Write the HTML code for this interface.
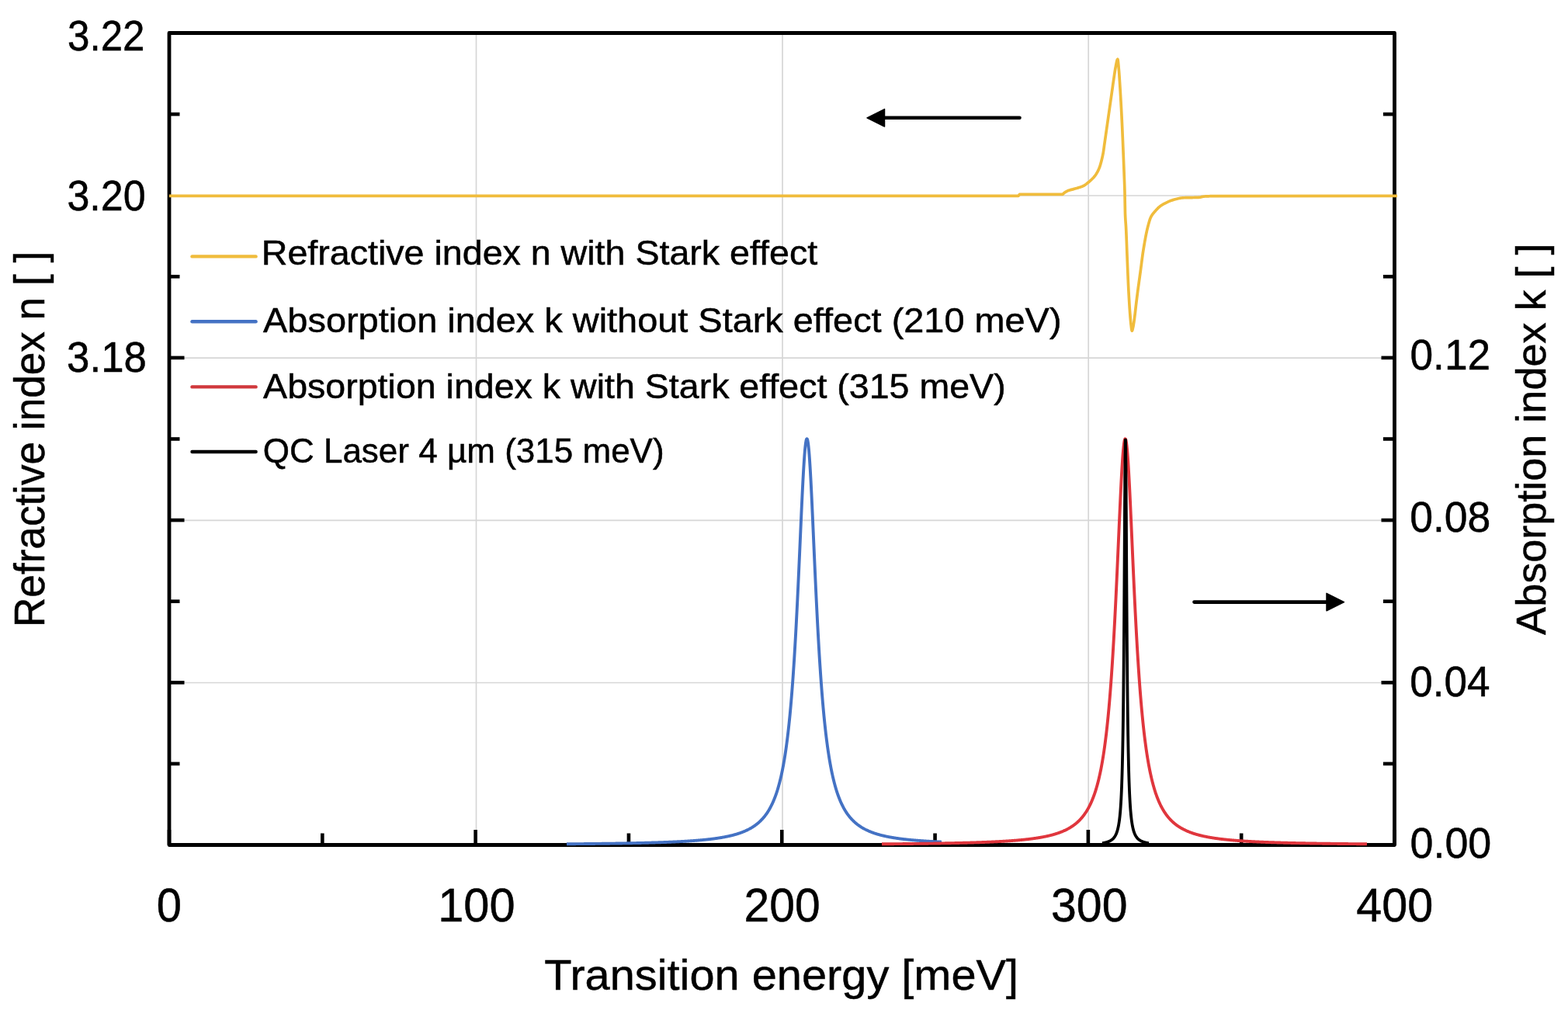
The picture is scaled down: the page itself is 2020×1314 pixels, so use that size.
<!DOCTYPE html>
<html><head><meta charset="utf-8"><title>Chart</title><style>html,body{margin:0;padding:0;background:#fff;}svg{display:block;}</style></head><body>
<svg width="2020" height="1314" viewBox="0 0 2020 1314">
<rect width="2020" height="1314" fill="#fff"/>
<g stroke="#d6d6d6" stroke-width="1.7"><line x1="613.5" y1="42.5" x2="613.5" y2="1088.5"/><line x1="1008.0" y1="42.5" x2="1008.0" y2="1088.5"/><line x1="1402.2" y1="42.5" x2="1402.2" y2="1088.5"/><line x1="218.0" y1="252.0" x2="1796.5" y2="252.0"/><line x1="218.0" y1="461.2" x2="1796.5" y2="461.2"/><line x1="218.0" y1="670.3" x2="1796.5" y2="670.3"/><line x1="218.0" y1="879.5" x2="1796.5" y2="879.5"/></g>
<g stroke="#000" stroke-width="4.6"><line x1="218.0" y1="42.50" x2="237.5" y2="42.50"/><line x1="1796.5" y1="42.50" x2="1779.5" y2="42.50"/><line x1="218.0" y1="147.10" x2="231.5" y2="147.10"/><line x1="1796.5" y1="147.10" x2="1781.9" y2="147.10"/><line x1="218.0" y1="356.30" x2="231.5" y2="356.30"/><line x1="1796.5" y1="356.30" x2="1781.9" y2="356.30"/><line x1="218.0" y1="460.90" x2="237.5" y2="460.90"/><line x1="1796.5" y1="460.90" x2="1779.5" y2="460.90"/><line x1="218.0" y1="565.50" x2="231.5" y2="565.50"/><line x1="1796.5" y1="565.50" x2="1781.9" y2="565.50"/><line x1="218.0" y1="670.10" x2="237.5" y2="670.10"/><line x1="1796.5" y1="670.10" x2="1779.5" y2="670.10"/><line x1="218.0" y1="774.70" x2="231.5" y2="774.70"/><line x1="1796.5" y1="774.70" x2="1781.9" y2="774.70"/><line x1="218.0" y1="879.30" x2="237.5" y2="879.30"/><line x1="1796.5" y1="879.30" x2="1779.5" y2="879.30"/><line x1="218.0" y1="983.90" x2="231.5" y2="983.90"/><line x1="1796.5" y1="983.90" x2="1781.9" y2="983.90"/><line x1="218.0" y1="1088.50" x2="237.5" y2="1088.50"/><line x1="1796.5" y1="1088.50" x2="1779.5" y2="1088.50"/><line x1="218.00" y1="1088.5" x2="218.00" y2="1069.0"/><line x1="415.31" y1="1088.5" x2="415.31" y2="1073.5"/><line x1="612.62" y1="1088.5" x2="612.62" y2="1069.0"/><line x1="809.94" y1="1088.5" x2="809.94" y2="1073.5"/><line x1="1007.25" y1="1088.5" x2="1007.25" y2="1069.0"/><line x1="1204.56" y1="1088.5" x2="1204.56" y2="1073.5"/><line x1="1401.88" y1="1088.5" x2="1401.88" y2="1069.0"/><line x1="1599.19" y1="1088.5" x2="1599.19" y2="1073.5"/><line x1="1796.50" y1="1088.5" x2="1796.50" y2="1069.0"/></g>
<rect x="218.0" y="42.5" width="1578.5" height="1046.0" fill="none" stroke="#000" stroke-width="4.8" stroke-linejoin="round"/>
<path d="M730.00,1087.27 L730.50,1087.27 L731.00,1087.27 L731.50,1087.26 L732.00,1087.26 L732.50,1087.25 L733.00,1087.25 L733.50,1087.25 L734.00,1087.24 L734.50,1087.24 L735.00,1087.23 L735.50,1087.23 L736.00,1087.23 L736.50,1087.22 L737.00,1087.22 L737.50,1087.21 L738.00,1087.21 L738.50,1087.20 L739.00,1087.20 L739.50,1087.20 L740.00,1087.19 L740.50,1087.19 L741.00,1087.18 L741.50,1087.18 L742.00,1087.17 L742.50,1087.17 L743.00,1087.16 L743.50,1087.16 L744.00,1087.16 L744.50,1087.15 L745.00,1087.15 L745.50,1087.14 L746.00,1087.14 L746.50,1087.13 L747.00,1087.13 L747.50,1087.12 L748.00,1087.12 L748.50,1087.11 L749.00,1087.11 L749.50,1087.10 L750.00,1087.10 L750.50,1087.09 L751.00,1087.09 L751.50,1087.08 L752.00,1087.08 L752.50,1087.07 L753.00,1087.07 L753.50,1087.06 L754.00,1087.06 L754.50,1087.05 L755.00,1087.05 L755.50,1087.04 L756.00,1087.04 L756.50,1087.03 L757.00,1087.03 L757.50,1087.02 L758.00,1087.02 L758.50,1087.01 L759.00,1087.01 L759.50,1087.00 L760.00,1087.00 L760.50,1086.99 L761.00,1086.99 L761.50,1086.98 L762.00,1086.98 L762.50,1086.97 L763.00,1086.96 L763.50,1086.96 L764.00,1086.95 L764.50,1086.95 L765.00,1086.94 L765.50,1086.94 L766.00,1086.93 L766.50,1086.93 L767.00,1086.92 L767.50,1086.91 L768.00,1086.91 L768.50,1086.90 L769.00,1086.90 L769.50,1086.89 L770.00,1086.88 L770.50,1086.88 L771.00,1086.87 L771.50,1086.87 L772.00,1086.86 L772.50,1086.85 L773.00,1086.85 L773.50,1086.84 L774.00,1086.84 L774.50,1086.83 L775.00,1086.82 L775.50,1086.82 L776.00,1086.81 L776.50,1086.80 L777.00,1086.80 L777.50,1086.79 L778.00,1086.78 L778.50,1086.78 L779.00,1086.77 L779.50,1086.76 L780.00,1086.76 L780.50,1086.75 L781.00,1086.74 L781.50,1086.74 L782.00,1086.73 L782.50,1086.72 L783.00,1086.72 L783.50,1086.71 L784.00,1086.70 L784.50,1086.70 L785.00,1086.69 L785.50,1086.68 L786.00,1086.67 L786.50,1086.67 L787.00,1086.66 L787.50,1086.65 L788.00,1086.65 L788.50,1086.64 L789.00,1086.63 L789.50,1086.62 L790.00,1086.62 L790.50,1086.61 L791.00,1086.60 L791.50,1086.59 L792.00,1086.59 L792.50,1086.58 L793.00,1086.57 L793.50,1086.56 L794.00,1086.55 L794.50,1086.55 L795.00,1086.54 L795.50,1086.53 L796.00,1086.52 L796.50,1086.51 L797.00,1086.51 L797.50,1086.50 L798.00,1086.49 L798.50,1086.48 L799.00,1086.47 L799.50,1086.46 L800.00,1086.46 L800.50,1086.45 L801.00,1086.44 L801.50,1086.43 L802.00,1086.42 L802.50,1086.41 L803.00,1086.40 L803.50,1086.39 L804.00,1086.39 L804.50,1086.38 L805.00,1086.37 L805.50,1086.36 L806.00,1086.35 L806.50,1086.34 L807.00,1086.33 L807.50,1086.32 L808.00,1086.31 L808.50,1086.30 L809.00,1086.29 L809.50,1086.28 L810.00,1086.27 L810.50,1086.26 L811.00,1086.26 L811.50,1086.25 L812.00,1086.24 L812.50,1086.23 L813.00,1086.22 L813.50,1086.21 L814.00,1086.20 L814.50,1086.18 L815.00,1086.17 L815.50,1086.16 L816.00,1086.15 L816.50,1086.14 L817.00,1086.13 L817.50,1086.12 L818.00,1086.11 L818.50,1086.10 L819.00,1086.09 L819.50,1086.08 L820.00,1086.07 L820.50,1086.06 L821.00,1086.05 L821.50,1086.03 L822.00,1086.02 L822.50,1086.01 L823.00,1086.00 L823.50,1085.99 L824.00,1085.98 L824.50,1085.97 L825.00,1085.95 L825.50,1085.94 L826.00,1085.93 L826.50,1085.92 L827.00,1085.91 L827.50,1085.89 L828.00,1085.88 L828.50,1085.87 L829.00,1085.86 L829.50,1085.84 L830.00,1085.83 L830.50,1085.82 L831.00,1085.81 L831.50,1085.79 L832.00,1085.78 L832.50,1085.77 L833.00,1085.75 L833.50,1085.74 L834.00,1085.73 L834.50,1085.71 L835.00,1085.70 L835.50,1085.69 L836.00,1085.67 L836.50,1085.66 L837.00,1085.64 L837.50,1085.63 L838.00,1085.62 L838.50,1085.60 L839.00,1085.59 L839.50,1085.57 L840.00,1085.56 L840.50,1085.54 L841.00,1085.53 L841.50,1085.51 L842.00,1085.50 L842.50,1085.48 L843.00,1085.47 L843.50,1085.45 L844.00,1085.44 L844.50,1085.42 L845.00,1085.41 L845.50,1085.39 L846.00,1085.37 L846.50,1085.36 L847.00,1085.34 L847.50,1085.33 L848.00,1085.31 L848.50,1085.29 L849.00,1085.28 L849.50,1085.26 L850.00,1085.24 L850.50,1085.23 L851.00,1085.21 L851.50,1085.19 L852.00,1085.17 L852.50,1085.16 L853.00,1085.14 L853.50,1085.12 L854.00,1085.10 L854.50,1085.08 L855.00,1085.06 L855.50,1085.05 L856.00,1085.03 L856.50,1085.01 L857.00,1084.99 L857.50,1084.97 L858.00,1084.95 L858.50,1084.93 L859.00,1084.91 L859.50,1084.89 L860.00,1084.87 L860.50,1084.85 L861.00,1084.83 L861.50,1084.81 L862.00,1084.79 L862.50,1084.77 L863.00,1084.75 L863.50,1084.73 L864.00,1084.71 L864.50,1084.68 L865.00,1084.66 L865.50,1084.64 L866.00,1084.62 L866.50,1084.60 L867.00,1084.57 L867.50,1084.55 L868.00,1084.53 L868.50,1084.50 L869.00,1084.48 L869.50,1084.46 L870.00,1084.43 L870.50,1084.41 L871.00,1084.39 L871.50,1084.36 L872.00,1084.34 L872.50,1084.31 L873.00,1084.29 L873.50,1084.26 L874.00,1084.24 L874.50,1084.21 L875.00,1084.19 L875.50,1084.16 L876.00,1084.13 L876.50,1084.11 L877.00,1084.08 L877.50,1084.05 L878.00,1084.03 L878.50,1084.00 L879.00,1083.97 L879.50,1083.94 L880.00,1083.91 L880.50,1083.88 L881.00,1083.86 L881.50,1083.83 L882.00,1083.80 L882.50,1083.77 L883.00,1083.74 L883.50,1083.71 L884.00,1083.68 L884.50,1083.65 L885.00,1083.61 L885.50,1083.58 L886.00,1083.55 L886.50,1083.52 L887.00,1083.49 L887.50,1083.45 L888.00,1083.42 L888.50,1083.39 L889.00,1083.35 L889.50,1083.32 L890.00,1083.29 L890.50,1083.25 L891.00,1083.22 L891.50,1083.18 L892.00,1083.14 L892.50,1083.11 L893.00,1083.07 L893.50,1083.04 L894.00,1083.00 L894.50,1082.96 L895.00,1082.92 L895.50,1082.88 L896.00,1082.85 L896.50,1082.81 L897.00,1082.77 L897.50,1082.73 L898.00,1082.69 L898.50,1082.65 L899.00,1082.60 L899.50,1082.56 L900.00,1082.52 L900.50,1082.48 L901.00,1082.43 L901.50,1082.39 L902.00,1082.35 L902.50,1082.30 L903.00,1082.26 L903.50,1082.21 L904.00,1082.17 L904.50,1082.12 L905.00,1082.07 L905.50,1082.03 L906.00,1081.98 L906.50,1081.93 L907.00,1081.88 L907.50,1081.83 L908.00,1081.78 L908.50,1081.73 L909.00,1081.68 L909.50,1081.63 L910.00,1081.57 L910.50,1081.52 L911.00,1081.47 L911.50,1081.41 L912.00,1081.36 L912.50,1081.30 L913.00,1081.25 L913.50,1081.19 L914.00,1081.13 L914.50,1081.07 L915.00,1081.01 L915.50,1080.95 L916.00,1080.89 L916.50,1080.83 L917.00,1080.77 L917.50,1080.71 L918.00,1080.65 L918.50,1080.58 L919.00,1080.52 L919.50,1080.45 L920.00,1080.38 L920.50,1080.32 L921.00,1080.25 L921.50,1080.18 L922.00,1080.11 L922.50,1080.04 L923.00,1079.97 L923.50,1079.90 L924.00,1079.82 L924.50,1079.75 L925.00,1079.67 L925.50,1079.60 L926.00,1079.52 L926.50,1079.44 L927.00,1079.36 L927.50,1079.28 L928.00,1079.20 L928.50,1079.12 L929.00,1079.03 L929.50,1078.95 L930.00,1078.86 L930.50,1078.78 L931.00,1078.69 L931.50,1078.60 L932.00,1078.51 L932.50,1078.42 L933.00,1078.32 L933.50,1078.23 L934.00,1078.13 L934.50,1078.04 L935.00,1077.94 L935.50,1077.84 L936.00,1077.74 L936.50,1077.63 L937.00,1077.53 L937.50,1077.42 L938.00,1077.32 L938.50,1077.21 L939.00,1077.10 L939.50,1076.99 L940.00,1076.87 L940.50,1076.76 L941.00,1076.64 L941.50,1076.52 L942.00,1076.40 L942.50,1076.28 L943.00,1076.16 L943.50,1076.03 L944.00,1075.90 L944.50,1075.77 L945.00,1075.64 L945.50,1075.51 L946.00,1075.37 L946.50,1075.23 L947.00,1075.09 L947.50,1074.95 L948.00,1074.81 L948.50,1074.66 L949.00,1074.51 L949.50,1074.36 L950.00,1074.21 L950.50,1074.05 L951.00,1073.89 L951.50,1073.73 L952.00,1073.56 L952.50,1073.40 L953.00,1073.23 L953.50,1073.05 L954.00,1072.88 L954.50,1072.70 L955.00,1072.52 L955.50,1072.33 L956.00,1072.14 L956.50,1071.95 L957.00,1071.76 L957.50,1071.56 L958.00,1071.36 L958.50,1071.15 L959.00,1070.94 L959.50,1070.73 L960.00,1070.51 L960.50,1070.29 L961.00,1070.07 L961.50,1069.84 L962.00,1069.61 L962.50,1069.37 L963.00,1069.13 L963.50,1068.88 L964.00,1068.63 L964.50,1068.38 L965.00,1068.12 L965.50,1067.85 L966.00,1067.58 L966.50,1067.30 L967.00,1067.02 L967.50,1066.74 L968.00,1066.44 L968.50,1066.15 L969.00,1065.84 L969.50,1065.53 L970.00,1065.21 L970.50,1064.89 L971.00,1064.56 L971.50,1064.22 L972.00,1063.88 L972.50,1063.53 L973.00,1063.17 L973.50,1062.80 L974.00,1062.43 L974.50,1062.05 L975.00,1061.66 L975.50,1061.26 L976.00,1060.85 L976.50,1060.43 L977.00,1060.00 L977.50,1059.57 L978.00,1059.12 L978.50,1058.67 L979.00,1058.20 L979.50,1057.72 L980.00,1057.24 L980.50,1056.74 L981.00,1056.22 L981.50,1055.70 L982.00,1055.16 L982.50,1054.61 L983.00,1054.05 L983.50,1053.47 L984.00,1052.88 L984.50,1052.28 L985.00,1051.66 L985.50,1051.02 L986.00,1050.37 L986.50,1049.70 L987.00,1049.01 L987.50,1048.31 L988.00,1047.59 L988.50,1046.84 L989.00,1046.08 L989.50,1045.30 L990.00,1044.50 L990.50,1043.67 L991.00,1042.82 L991.50,1041.95 L992.00,1041.06 L992.50,1040.14 L993.00,1039.19 L993.50,1038.21 L994.00,1037.21 L994.50,1036.18 L995.00,1035.12 L995.50,1034.03 L996.00,1032.90 L996.50,1031.74 L997.00,1030.55 L997.50,1029.31 L998.00,1028.05 L998.50,1026.74 L999.00,1025.39 L999.50,1024.00 L1000.00,1022.56 L1000.50,1021.08 L1001.00,1019.55 L1001.50,1017.97 L1002.00,1016.33 L1002.50,1014.65 L1003.00,1012.91 L1003.50,1011.10 L1004.00,1009.24 L1004.50,1007.31 L1005.00,1005.32 L1005.50,1003.26 L1006.00,1001.12 L1006.50,998.91 L1007.00,996.62 L1007.50,994.25 L1008.00,991.79 L1008.50,989.24 L1009.00,986.60 L1009.50,983.86 L1010.00,981.02 L1010.50,978.07 L1011.00,975.01 L1011.50,971.83 L1012.00,968.53 L1012.50,965.10 L1013.00,961.54 L1013.50,957.85 L1014.00,954.00 L1014.50,950.01 L1015.00,945.85 L1015.50,941.53 L1016.00,937.04 L1016.50,932.37 L1017.00,927.52 L1017.50,922.46 L1018.00,917.21 L1018.50,911.74 L1019.00,906.06 L1019.50,900.15 L1020.00,894.00 L1020.50,887.61 L1021.00,880.97 L1021.50,874.07 L1022.00,866.91 L1022.50,859.47 L1023.00,851.76 L1023.50,843.76 L1024.00,835.47 L1024.50,826.90 L1025.00,818.03 L1025.50,808.88 L1026.00,799.44 L1026.50,789.72 L1027.00,779.73 L1027.50,769.48 L1028.00,758.98 L1028.50,748.27 L1029.00,737.36 L1029.50,726.28 L1030.00,715.08 L1030.50,703.79 L1031.00,692.47 L1031.50,681.16 L1032.00,669.94 L1032.50,658.86 L1033.00,648.01 L1033.50,637.47 L1034.00,627.31 L1034.50,617.62 L1035.00,608.50 L1035.50,600.04 L1036.00,592.31 L1036.50,585.42 L1037.00,579.44 L1037.50,574.44 L1038.00,570.48 L1038.50,567.62 L1039.00,565.88 L1039.50,565.30 L1040.00,565.88 L1040.50,567.62 L1041.00,570.48 L1041.50,574.44 L1042.00,579.44 L1042.50,585.42 L1043.00,592.31 L1043.50,600.04 L1044.00,608.50 L1044.50,617.62 L1045.00,627.31 L1045.50,637.47 L1046.00,648.01 L1046.50,658.86 L1047.00,669.94 L1047.50,681.16 L1048.00,692.47 L1048.50,703.79 L1049.00,715.08 L1049.50,726.28 L1050.00,737.36 L1050.50,748.27 L1051.00,758.98 L1051.50,769.48 L1052.00,779.73 L1052.50,789.72 L1053.00,799.44 L1053.50,808.88 L1054.00,818.03 L1054.50,826.90 L1055.00,835.47 L1055.50,843.76 L1056.00,851.76 L1056.50,859.47 L1057.00,866.91 L1057.50,874.07 L1058.00,880.97 L1058.50,887.61 L1059.00,894.00 L1059.50,900.15 L1060.00,906.06 L1060.50,911.74 L1061.00,917.21 L1061.50,922.46 L1062.00,927.52 L1062.50,932.37 L1063.00,937.04 L1063.50,941.53 L1064.00,945.85 L1064.50,950.01 L1065.00,954.00 L1065.50,957.85 L1066.00,961.54 L1066.50,965.10 L1067.00,968.53 L1067.50,971.83 L1068.00,975.01 L1068.50,978.07 L1069.00,981.02 L1069.50,983.86 L1070.00,986.60 L1070.50,989.24 L1071.00,991.79 L1071.50,994.25 L1072.00,996.62 L1072.50,998.91 L1073.00,1001.12 L1073.50,1003.26 L1074.00,1005.32 L1074.50,1007.31 L1075.00,1009.24 L1075.50,1011.10 L1076.00,1012.91 L1076.50,1014.65 L1077.00,1016.33 L1077.50,1017.97 L1078.00,1019.55 L1078.50,1021.08 L1079.00,1022.56 L1079.50,1024.00 L1080.00,1025.39 L1080.50,1026.74 L1081.00,1028.05 L1081.50,1029.31 L1082.00,1030.55 L1082.50,1031.74 L1083.00,1032.90 L1083.50,1034.03 L1084.00,1035.12 L1084.50,1036.18 L1085.00,1037.21 L1085.50,1038.21 L1086.00,1039.19 L1086.50,1040.14 L1087.00,1041.06 L1087.50,1041.95 L1088.00,1042.82 L1088.50,1043.67 L1089.00,1044.50 L1089.50,1045.30 L1090.00,1046.08 L1090.50,1046.84 L1091.00,1047.59 L1091.50,1048.31 L1092.00,1049.01 L1092.50,1049.70 L1093.00,1050.37 L1093.50,1051.02 L1094.00,1051.66 L1094.50,1052.28 L1095.00,1052.88 L1095.50,1053.47 L1096.00,1054.05 L1096.50,1054.61 L1097.00,1055.16 L1097.50,1055.70 L1098.00,1056.22 L1098.50,1056.74 L1099.00,1057.24 L1099.50,1057.72 L1100.00,1058.20 L1100.50,1058.67 L1101.00,1059.12 L1101.50,1059.57 L1102.00,1060.00 L1102.50,1060.43 L1103.00,1060.85 L1103.50,1061.26 L1104.00,1061.66 L1104.50,1062.05 L1105.00,1062.43 L1105.50,1062.80 L1106.00,1063.17 L1106.50,1063.53 L1107.00,1063.88 L1107.50,1064.22 L1108.00,1064.56 L1108.50,1064.89 L1109.00,1065.21 L1109.50,1065.53 L1110.00,1065.84 L1110.50,1066.15 L1111.00,1066.44 L1111.50,1066.74 L1112.00,1067.02 L1112.50,1067.30 L1113.00,1067.58 L1113.50,1067.85 L1114.00,1068.12 L1114.50,1068.38 L1115.00,1068.63 L1115.50,1068.88 L1116.00,1069.13 L1116.50,1069.37 L1117.00,1069.61 L1117.50,1069.84 L1118.00,1070.07 L1118.50,1070.29 L1119.00,1070.51 L1119.50,1070.73 L1120.00,1070.94 L1120.50,1071.15 L1121.00,1071.36 L1121.50,1071.56 L1122.00,1071.76 L1122.50,1071.95 L1123.00,1072.14 L1123.50,1072.33 L1124.00,1072.52 L1124.50,1072.70 L1125.00,1072.88 L1125.50,1073.05 L1126.00,1073.23 L1126.50,1073.40 L1127.00,1073.56 L1127.50,1073.73 L1128.00,1073.89 L1128.50,1074.05 L1129.00,1074.21 L1129.50,1074.36 L1130.00,1074.51 L1130.50,1074.66 L1131.00,1074.81 L1131.50,1074.95 L1132.00,1075.09 L1132.50,1075.23 L1133.00,1075.37 L1133.50,1075.51 L1134.00,1075.64 L1134.50,1075.77 L1135.00,1075.90 L1135.50,1076.03 L1136.00,1076.16 L1136.50,1076.28 L1137.00,1076.40 L1137.50,1076.52 L1138.00,1076.64 L1138.50,1076.76 L1139.00,1076.87 L1139.50,1076.99 L1140.00,1077.10 L1140.50,1077.21 L1141.00,1077.32 L1141.50,1077.42 L1142.00,1077.53 L1142.50,1077.63 L1143.00,1077.74 L1143.50,1077.84 L1144.00,1077.94 L1144.50,1078.04 L1145.00,1078.13 L1145.50,1078.23 L1146.00,1078.32 L1146.50,1078.42 L1147.00,1078.51 L1147.50,1078.60 L1148.00,1078.69 L1148.50,1078.78 L1149.00,1078.86 L1149.50,1078.95 L1150.00,1079.03 L1150.50,1079.12 L1151.00,1079.20 L1151.50,1079.28 L1152.00,1079.36 L1152.50,1079.44 L1153.00,1079.52 L1153.50,1079.60 L1154.00,1079.67 L1154.50,1079.75 L1155.00,1079.82 L1155.50,1079.90 L1156.00,1079.97 L1156.50,1080.04 L1157.00,1080.11 L1157.50,1080.18 L1158.00,1080.25 L1158.50,1080.32 L1159.00,1080.38 L1159.50,1080.45 L1160.00,1080.52 L1160.50,1080.58 L1161.00,1080.65 L1161.50,1080.71 L1162.00,1080.77 L1162.50,1080.83 L1163.00,1080.89 L1163.50,1080.95 L1164.00,1081.01 L1164.50,1081.07 L1165.00,1081.13 L1165.50,1081.19 L1166.00,1081.25 L1166.50,1081.30 L1167.00,1081.36 L1167.50,1081.41 L1168.00,1081.47 L1168.50,1081.52 L1169.00,1081.57 L1169.50,1081.63 L1170.00,1081.68 L1170.50,1081.73 L1171.00,1081.78 L1171.50,1081.83 L1172.00,1081.88 L1172.50,1081.93 L1173.00,1081.98 L1173.50,1082.03 L1174.00,1082.07 L1174.50,1082.12 L1175.00,1082.17 L1175.50,1082.21 L1176.00,1082.26 L1176.50,1082.30 L1177.00,1082.35 L1177.50,1082.39 L1178.00,1082.43 L1178.50,1082.48 L1179.00,1082.52 L1179.50,1082.56 L1180.00,1082.60 L1180.50,1082.65 L1181.00,1082.69 L1181.50,1082.73 L1182.00,1082.77 L1182.50,1082.81 L1183.00,1082.85 L1183.50,1082.88 L1184.00,1082.92 L1184.50,1082.96 L1185.00,1083.00 L1185.50,1083.04 L1186.00,1083.07 L1186.50,1083.11 L1187.00,1083.14 L1187.50,1083.18 L1188.00,1083.22 L1188.50,1083.25 L1189.00,1083.29 L1189.50,1083.32 L1190.00,1083.35 L1190.50,1083.39 L1191.00,1083.42 L1191.50,1083.45 L1192.00,1083.49 L1192.50,1083.52 L1193.00,1083.55 L1193.50,1083.58 L1194.00,1083.61 L1194.50,1083.65 L1195.00,1083.68 L1195.50,1083.71 L1196.00,1083.74 L1196.50,1083.77 L1197.00,1083.80 L1197.50,1083.83 L1198.00,1083.86 L1198.50,1083.88 L1199.00,1083.91 L1199.50,1083.94 L1200.00,1083.97 L1200.50,1084.00 L1201.00,1084.03 L1201.50,1084.05 L1202.00,1084.08 L1202.50,1084.11 L1203.00,1084.13 L1203.50,1084.16 L1204.00,1084.19 L1204.50,1084.21 L1205.00,1084.24 L1205.50,1084.26 L1206.00,1084.29 L1206.50,1084.31 L1207.00,1084.34 L1207.50,1084.36 L1208.00,1084.39 L1208.50,1084.41 L1209.00,1084.43 L1209.50,1084.46 L1210.00,1084.48 L1210.50,1084.50 L1211.00,1084.53 L1211.50,1084.55 L1212.00,1084.57 L1212.50,1084.60 L1213.00,1084.62" fill="none" stroke="#4472C4" stroke-width="3.9" stroke-linejoin="round"/>
<path d="M1136.00,1087.31 L1136.50,1087.30 L1137.00,1087.30 L1137.50,1087.29 L1138.00,1087.29 L1138.50,1087.29 L1139.00,1087.28 L1139.50,1087.28 L1140.00,1087.27 L1140.50,1087.27 L1141.00,1087.27 L1141.50,1087.26 L1142.00,1087.26 L1142.50,1087.25 L1143.00,1087.25 L1143.50,1087.25 L1144.00,1087.24 L1144.50,1087.24 L1145.00,1087.23 L1145.50,1087.23 L1146.00,1087.23 L1146.50,1087.22 L1147.00,1087.22 L1147.50,1087.21 L1148.00,1087.21 L1148.50,1087.20 L1149.00,1087.20 L1149.50,1087.20 L1150.00,1087.19 L1150.50,1087.19 L1151.00,1087.18 L1151.50,1087.18 L1152.00,1087.17 L1152.50,1087.17 L1153.00,1087.17 L1153.50,1087.16 L1154.00,1087.16 L1154.50,1087.15 L1155.00,1087.15 L1155.50,1087.14 L1156.00,1087.14 L1156.50,1087.13 L1157.00,1087.13 L1157.50,1087.12 L1158.00,1087.12 L1158.50,1087.11 L1159.00,1087.11 L1159.50,1087.10 L1160.00,1087.10 L1160.50,1087.10 L1161.00,1087.09 L1161.50,1087.09 L1162.00,1087.08 L1162.50,1087.08 L1163.00,1087.07 L1163.50,1087.07 L1164.00,1087.06 L1164.50,1087.06 L1165.00,1087.05 L1165.50,1087.05 L1166.00,1087.04 L1166.50,1087.04 L1167.00,1087.03 L1167.50,1087.02 L1168.00,1087.02 L1168.50,1087.01 L1169.00,1087.01 L1169.50,1087.00 L1170.00,1087.00 L1170.50,1086.99 L1171.00,1086.99 L1171.50,1086.98 L1172.00,1086.98 L1172.50,1086.97 L1173.00,1086.97 L1173.50,1086.96 L1174.00,1086.95 L1174.50,1086.95 L1175.00,1086.94 L1175.50,1086.94 L1176.00,1086.93 L1176.50,1086.93 L1177.00,1086.92 L1177.50,1086.91 L1178.00,1086.91 L1178.50,1086.90 L1179.00,1086.90 L1179.50,1086.89 L1180.00,1086.89 L1180.50,1086.88 L1181.00,1086.87 L1181.50,1086.87 L1182.00,1086.86 L1182.50,1086.86 L1183.00,1086.85 L1183.50,1086.84 L1184.00,1086.84 L1184.50,1086.83 L1185.00,1086.82 L1185.50,1086.82 L1186.00,1086.81 L1186.50,1086.80 L1187.00,1086.80 L1187.50,1086.79 L1188.00,1086.79 L1188.50,1086.78 L1189.00,1086.77 L1189.50,1086.77 L1190.00,1086.76 L1190.50,1086.75 L1191.00,1086.75 L1191.50,1086.74 L1192.00,1086.73 L1192.50,1086.73 L1193.00,1086.72 L1193.50,1086.71 L1194.00,1086.70 L1194.50,1086.70 L1195.00,1086.69 L1195.50,1086.68 L1196.00,1086.68 L1196.50,1086.67 L1197.00,1086.66 L1197.50,1086.65 L1198.00,1086.65 L1198.50,1086.64 L1199.00,1086.63 L1199.50,1086.62 L1200.00,1086.62 L1200.50,1086.61 L1201.00,1086.60 L1201.50,1086.59 L1202.00,1086.59 L1202.50,1086.58 L1203.00,1086.57 L1203.50,1086.56 L1204.00,1086.56 L1204.50,1086.55 L1205.00,1086.54 L1205.50,1086.53 L1206.00,1086.52 L1206.50,1086.52 L1207.00,1086.51 L1207.50,1086.50 L1208.00,1086.49 L1208.50,1086.48 L1209.00,1086.47 L1209.50,1086.47 L1210.00,1086.46 L1210.50,1086.45 L1211.00,1086.44 L1211.50,1086.43 L1212.00,1086.42 L1212.50,1086.41 L1213.00,1086.41 L1213.50,1086.40 L1214.00,1086.39 L1214.50,1086.38 L1215.00,1086.37 L1215.50,1086.36 L1216.00,1086.35 L1216.50,1086.34 L1217.00,1086.33 L1217.50,1086.32 L1218.00,1086.31 L1218.50,1086.31 L1219.00,1086.30 L1219.50,1086.29 L1220.00,1086.28 L1220.50,1086.27 L1221.00,1086.26 L1221.50,1086.25 L1222.00,1086.24 L1222.50,1086.23 L1223.00,1086.22 L1223.50,1086.21 L1224.00,1086.20 L1224.50,1086.19 L1225.00,1086.18 L1225.50,1086.17 L1226.00,1086.16 L1226.50,1086.15 L1227.00,1086.13 L1227.50,1086.12 L1228.00,1086.11 L1228.50,1086.10 L1229.00,1086.09 L1229.50,1086.08 L1230.00,1086.07 L1230.50,1086.06 L1231.00,1086.05 L1231.50,1086.04 L1232.00,1086.03 L1232.50,1086.01 L1233.00,1086.00 L1233.50,1085.99 L1234.00,1085.98 L1234.50,1085.97 L1235.00,1085.96 L1235.50,1085.94 L1236.00,1085.93 L1236.50,1085.92 L1237.00,1085.91 L1237.50,1085.90 L1238.00,1085.88 L1238.50,1085.87 L1239.00,1085.86 L1239.50,1085.85 L1240.00,1085.83 L1240.50,1085.82 L1241.00,1085.81 L1241.50,1085.80 L1242.00,1085.78 L1242.50,1085.77 L1243.00,1085.76 L1243.50,1085.74 L1244.00,1085.73 L1244.50,1085.72 L1245.00,1085.70 L1245.50,1085.69 L1246.00,1085.68 L1246.50,1085.66 L1247.00,1085.65 L1247.50,1085.63 L1248.00,1085.62 L1248.50,1085.61 L1249.00,1085.59 L1249.50,1085.58 L1250.00,1085.56 L1250.50,1085.55 L1251.00,1085.53 L1251.50,1085.52 L1252.00,1085.50 L1252.50,1085.49 L1253.00,1085.47 L1253.50,1085.46 L1254.00,1085.44 L1254.50,1085.43 L1255.00,1085.41 L1255.50,1085.39 L1256.00,1085.38 L1256.50,1085.36 L1257.00,1085.35 L1257.50,1085.33 L1258.00,1085.31 L1258.50,1085.30 L1259.00,1085.28 L1259.50,1085.26 L1260.00,1085.25 L1260.50,1085.23 L1261.00,1085.21 L1261.50,1085.19 L1262.00,1085.18 L1262.50,1085.16 L1263.00,1085.14 L1263.50,1085.12 L1264.00,1085.10 L1264.50,1085.09 L1265.00,1085.07 L1265.50,1085.05 L1266.00,1085.03 L1266.50,1085.01 L1267.00,1084.99 L1267.50,1084.97 L1268.00,1084.95 L1268.50,1084.94 L1269.00,1084.92 L1269.50,1084.90 L1270.00,1084.88 L1270.50,1084.86 L1271.00,1084.84 L1271.50,1084.81 L1272.00,1084.79 L1272.50,1084.77 L1273.00,1084.75 L1273.50,1084.73 L1274.00,1084.71 L1274.50,1084.69 L1275.00,1084.67 L1275.50,1084.64 L1276.00,1084.62 L1276.50,1084.60 L1277.00,1084.58 L1277.50,1084.56 L1278.00,1084.53 L1278.50,1084.51 L1279.00,1084.49 L1279.50,1084.46 L1280.00,1084.44 L1280.50,1084.42 L1281.00,1084.39 L1281.50,1084.37 L1282.00,1084.34 L1282.50,1084.32 L1283.00,1084.29 L1283.50,1084.27 L1284.00,1084.24 L1284.50,1084.22 L1285.00,1084.19 L1285.50,1084.16 L1286.00,1084.14 L1286.50,1084.11 L1287.00,1084.09 L1287.50,1084.06 L1288.00,1084.03 L1288.50,1084.00 L1289.00,1083.98 L1289.50,1083.95 L1290.00,1083.92 L1290.50,1083.89 L1291.00,1083.86 L1291.50,1083.83 L1292.00,1083.80 L1292.50,1083.77 L1293.00,1083.74 L1293.50,1083.71 L1294.00,1083.68 L1294.50,1083.65 L1295.00,1083.62 L1295.50,1083.59 L1296.00,1083.56 L1296.50,1083.53 L1297.00,1083.49 L1297.50,1083.46 L1298.00,1083.43 L1298.50,1083.39 L1299.00,1083.36 L1299.50,1083.33 L1300.00,1083.29 L1300.50,1083.26 L1301.00,1083.22 L1301.50,1083.19 L1302.00,1083.15 L1302.50,1083.12 L1303.00,1083.08 L1303.50,1083.04 L1304.00,1083.01 L1304.50,1082.97 L1305.00,1082.93 L1305.50,1082.89 L1306.00,1082.85 L1306.50,1082.81 L1307.00,1082.77 L1307.50,1082.73 L1308.00,1082.69 L1308.50,1082.65 L1309.00,1082.61 L1309.50,1082.57 L1310.00,1082.53 L1310.50,1082.49 L1311.00,1082.44 L1311.50,1082.40 L1312.00,1082.36 L1312.50,1082.31 L1313.00,1082.27 L1313.50,1082.22 L1314.00,1082.18 L1314.50,1082.13 L1315.00,1082.08 L1315.50,1082.03 L1316.00,1081.99 L1316.50,1081.94 L1317.00,1081.89 L1317.50,1081.84 L1318.00,1081.79 L1318.50,1081.74 L1319.00,1081.69 L1319.50,1081.64 L1320.00,1081.58 L1320.50,1081.53 L1321.00,1081.48 L1321.50,1081.42 L1322.00,1081.37 L1322.50,1081.31 L1323.00,1081.26 L1323.50,1081.20 L1324.00,1081.14 L1324.50,1081.08 L1325.00,1081.03 L1325.50,1080.97 L1326.00,1080.91 L1326.50,1080.85 L1327.00,1080.78 L1327.50,1080.72 L1328.00,1080.66 L1328.50,1080.59 L1329.00,1080.53 L1329.50,1080.46 L1330.00,1080.40 L1330.50,1080.33 L1331.00,1080.26 L1331.50,1080.19 L1332.00,1080.12 L1332.50,1080.05 L1333.00,1079.98 L1333.50,1079.91 L1334.00,1079.84 L1334.50,1079.76 L1335.00,1079.69 L1335.50,1079.61 L1336.00,1079.53 L1336.50,1079.46 L1337.00,1079.38 L1337.50,1079.30 L1338.00,1079.22 L1338.50,1079.13 L1339.00,1079.05 L1339.50,1078.97 L1340.00,1078.88 L1340.50,1078.79 L1341.00,1078.71 L1341.50,1078.62 L1342.00,1078.53 L1342.50,1078.43 L1343.00,1078.34 L1343.50,1078.25 L1344.00,1078.15 L1344.50,1078.06 L1345.00,1077.96 L1345.50,1077.86 L1346.00,1077.76 L1346.50,1077.65 L1347.00,1077.55 L1347.50,1077.45 L1348.00,1077.34 L1348.50,1077.23 L1349.00,1077.12 L1349.50,1077.01 L1350.00,1076.90 L1350.50,1076.78 L1351.00,1076.67 L1351.50,1076.55 L1352.00,1076.43 L1352.50,1076.31 L1353.00,1076.18 L1353.50,1076.06 L1354.00,1075.93 L1354.50,1075.80 L1355.00,1075.67 L1355.50,1075.53 L1356.00,1075.40 L1356.50,1075.26 L1357.00,1075.12 L1357.50,1074.98 L1358.00,1074.84 L1358.50,1074.69 L1359.00,1074.54 L1359.50,1074.39 L1360.00,1074.24 L1360.50,1074.08 L1361.00,1073.92 L1361.50,1073.76 L1362.00,1073.60 L1362.50,1073.43 L1363.00,1073.26 L1363.50,1073.09 L1364.00,1072.91 L1364.50,1072.73 L1365.00,1072.55 L1365.50,1072.37 L1366.00,1072.18 L1366.50,1071.99 L1367.00,1071.80 L1367.50,1071.60 L1368.00,1071.40 L1368.50,1071.19 L1369.00,1070.99 L1369.50,1070.77 L1370.00,1070.56 L1370.50,1070.34 L1371.00,1070.11 L1371.50,1069.89 L1372.00,1069.66 L1372.50,1069.42 L1373.00,1069.18 L1373.50,1068.93 L1374.00,1068.68 L1374.50,1068.43 L1375.00,1068.17 L1375.50,1067.90 L1376.00,1067.63 L1376.50,1067.36 L1377.00,1067.08 L1377.50,1066.79 L1378.00,1066.50 L1378.50,1066.21 L1379.00,1065.90 L1379.50,1065.59 L1380.00,1065.28 L1380.50,1064.96 L1381.00,1064.63 L1381.50,1064.29 L1382.00,1063.95 L1382.50,1063.60 L1383.00,1063.24 L1383.50,1062.88 L1384.00,1062.50 L1384.50,1062.12 L1385.00,1061.73 L1385.50,1061.34 L1386.00,1060.93 L1386.50,1060.52 L1387.00,1060.09 L1387.50,1059.66 L1388.00,1059.21 L1388.50,1058.76 L1389.00,1058.29 L1389.50,1057.82 L1390.00,1057.33 L1390.50,1056.84 L1391.00,1056.33 L1391.50,1055.81 L1392.00,1055.27 L1392.50,1054.72 L1393.00,1054.16 L1393.50,1053.59 L1394.00,1053.00 L1394.50,1052.40 L1395.00,1051.78 L1395.50,1051.15 L1396.00,1050.50 L1396.50,1049.83 L1397.00,1049.15 L1397.50,1048.45 L1398.00,1047.73 L1398.50,1046.99 L1399.00,1046.24 L1399.50,1045.46 L1400.00,1044.66 L1400.50,1043.84 L1401.00,1042.99 L1401.50,1042.13 L1402.00,1041.24 L1402.50,1040.32 L1403.00,1039.38 L1403.50,1038.41 L1404.00,1037.41 L1404.50,1036.39 L1405.00,1035.33 L1405.50,1034.25 L1406.00,1033.13 L1406.50,1031.97 L1407.00,1030.79 L1407.50,1029.56 L1408.00,1028.30 L1408.50,1027.00 L1409.00,1025.66 L1409.50,1024.28 L1410.00,1022.85 L1410.50,1021.38 L1411.00,1019.86 L1411.50,1018.29 L1412.00,1016.67 L1412.50,1014.99 L1413.00,1013.26 L1413.50,1011.47 L1414.00,1009.62 L1414.50,1007.70 L1415.00,1005.72 L1415.50,1003.68 L1416.00,1001.56 L1416.50,999.36 L1417.00,997.09 L1417.50,994.73 L1418.00,992.29 L1418.50,989.76 L1419.00,987.14 L1419.50,984.42 L1420.00,981.59 L1420.50,978.67 L1421.00,975.63 L1421.50,972.48 L1422.00,969.20 L1422.50,965.80 L1423.00,962.27 L1423.50,958.60 L1424.00,954.78 L1424.50,950.82 L1425.00,946.70 L1425.50,942.41 L1426.00,937.96 L1426.50,933.32 L1427.00,928.50 L1427.50,923.49 L1428.00,918.28 L1428.50,912.85 L1429.00,907.21 L1429.50,901.35 L1430.00,895.25 L1430.50,888.91 L1431.00,882.32 L1431.50,875.47 L1432.00,868.36 L1432.50,860.98 L1433.00,853.32 L1433.50,845.38 L1434.00,837.15 L1434.50,828.64 L1435.00,819.83 L1435.50,810.73 L1436.00,801.35 L1436.50,791.68 L1437.00,781.75 L1437.50,771.55 L1438.00,761.10 L1438.50,750.43 L1439.00,739.56 L1439.50,728.51 L1440.00,717.33 L1440.50,706.06 L1441.00,694.73 L1441.50,683.42 L1442.00,672.18 L1442.50,661.06 L1443.00,650.16 L1443.50,639.55 L1444.00,629.30 L1444.50,619.51 L1445.00,610.27 L1445.50,601.67 L1446.00,593.80 L1446.50,586.73 L1447.00,580.56 L1447.50,575.36 L1448.00,571.19 L1448.50,568.10 L1449.00,566.14 L1449.50,565.32 L1450.00,565.67 L1450.50,567.18 L1451.00,569.82 L1451.50,573.56 L1452.00,578.36 L1452.50,584.15 L1453.00,590.87 L1453.50,598.43 L1454.00,606.75 L1454.50,615.75 L1455.00,625.33 L1455.50,635.40 L1456.00,645.88 L1456.50,656.67 L1457.00,667.71 L1457.50,678.91 L1458.00,690.21 L1458.50,701.53 L1459.00,712.83 L1459.50,724.05 L1460.00,735.16 L1460.50,746.10 L1461.00,756.86 L1461.50,767.40 L1462.00,777.70 L1462.50,787.74 L1463.00,797.52 L1463.50,807.01 L1464.00,816.23 L1464.50,825.15 L1465.00,833.78 L1465.50,842.13 L1466.00,850.18 L1466.50,857.95 L1467.00,865.44 L1467.50,872.66 L1468.00,879.61 L1468.50,886.30 L1469.00,892.74 L1469.50,898.94 L1470.00,904.90 L1470.50,910.62 L1471.00,916.13 L1471.50,921.43 L1472.00,926.52 L1472.50,931.42 L1473.00,936.12 L1473.50,940.65 L1474.00,945.00 L1474.50,949.19 L1475.00,953.21 L1475.50,957.09 L1476.00,960.82 L1476.50,964.40 L1477.00,967.86 L1477.50,971.18 L1478.00,974.38 L1478.50,977.47 L1479.00,980.44 L1479.50,983.30 L1480.00,986.06 L1480.50,988.72 L1481.00,991.29 L1481.50,993.76 L1482.00,996.15 L1482.50,998.46 L1483.00,1000.69 L1483.50,1002.84 L1484.00,1004.91 L1484.50,1006.92 L1485.00,1008.86 L1485.50,1010.74 L1486.00,1012.55 L1486.50,1014.30 L1487.00,1016.00 L1487.50,1017.64 L1488.00,1019.24 L1488.50,1020.78 L1489.00,1022.27 L1489.50,1023.71 L1490.00,1025.11 L1490.50,1026.47 L1491.00,1027.79 L1491.50,1029.06 L1492.00,1030.30 L1492.50,1031.50 L1493.00,1032.67 L1493.50,1033.80 L1494.00,1034.90 L1494.50,1035.97 L1495.00,1037.01 L1495.50,1038.02 L1496.00,1039.00 L1496.50,1039.95 L1497.00,1040.87 L1497.50,1041.77 L1498.00,1042.65 L1498.50,1043.50 L1499.00,1044.33 L1499.50,1045.14 L1500.00,1045.93 L1500.50,1046.69 L1501.00,1047.44 L1501.50,1048.17 L1502.00,1048.87 L1502.50,1049.56 L1503.00,1050.24 L1503.50,1050.89 L1504.00,1051.53 L1504.50,1052.16 L1505.00,1052.76 L1505.50,1053.36 L1506.00,1053.94 L1506.50,1054.50 L1507.00,1055.05 L1507.50,1055.59 L1508.00,1056.12 L1508.50,1056.63 L1509.00,1057.14 L1509.50,1057.63 L1510.00,1058.11 L1510.50,1058.57 L1511.00,1059.03 L1511.50,1059.48 L1512.00,1059.92 L1512.50,1060.35 L1513.00,1060.77 L1513.50,1061.18 L1514.00,1061.58 L1514.50,1061.97 L1515.00,1062.35 L1515.50,1062.73 L1516.00,1063.10 L1516.50,1063.46 L1517.00,1063.81 L1517.50,1064.15 L1518.00,1064.49 L1518.50,1064.82 L1519.00,1065.15 L1519.50,1065.47 L1520.00,1065.78 L1520.50,1066.08 L1521.00,1066.38 L1521.50,1066.68 L1522.00,1066.97 L1522.50,1067.25 L1523.00,1067.53 L1523.50,1067.80 L1524.00,1068.06 L1524.50,1068.33 L1525.00,1068.58 L1525.50,1068.83 L1526.00,1069.08 L1526.50,1069.32 L1527.00,1069.56 L1527.50,1069.79 L1528.00,1070.02 L1528.50,1070.25 L1529.00,1070.47 L1529.50,1070.69 L1530.00,1070.90 L1530.50,1071.11 L1531.00,1071.32 L1531.50,1071.52 L1532.00,1071.72 L1532.50,1071.91 L1533.00,1072.11 L1533.50,1072.29 L1534.00,1072.48 L1534.50,1072.66 L1535.00,1072.84 L1535.50,1073.02 L1536.00,1073.19 L1536.50,1073.36 L1537.00,1073.53 L1537.50,1073.70 L1538.00,1073.86 L1538.50,1074.02 L1539.00,1074.17 L1539.50,1074.33 L1540.00,1074.48 L1540.50,1074.63 L1541.00,1074.78 L1541.50,1074.92 L1542.00,1075.07 L1542.50,1075.21 L1543.00,1075.34 L1543.50,1075.48 L1544.00,1075.62 L1544.50,1075.75 L1545.00,1075.88 L1545.50,1076.01 L1546.00,1076.13 L1546.50,1076.26 L1547.00,1076.38 L1547.50,1076.50 L1548.00,1076.62 L1548.50,1076.74 L1549.00,1076.85 L1549.50,1076.96 L1550.00,1077.08 L1550.50,1077.19 L1551.00,1077.30 L1551.50,1077.40 L1552.00,1077.51 L1552.50,1077.61 L1553.00,1077.72 L1553.50,1077.82 L1554.00,1077.92 L1554.50,1078.02 L1555.00,1078.11 L1555.50,1078.21 L1556.00,1078.30 L1556.50,1078.40 L1557.00,1078.49 L1557.50,1078.58 L1558.00,1078.67 L1558.50,1078.76 L1559.00,1078.85 L1559.50,1078.93 L1560.00,1079.02 L1560.50,1079.10 L1561.00,1079.18 L1561.50,1079.26 L1562.00,1079.35 L1562.50,1079.42 L1563.00,1079.50 L1563.50,1079.58 L1564.00,1079.66 L1564.50,1079.73 L1565.00,1079.81 L1565.50,1079.88 L1566.00,1079.95 L1566.50,1080.03 L1567.00,1080.10 L1567.50,1080.17 L1568.00,1080.24 L1568.50,1080.30 L1569.00,1080.37 L1569.50,1080.44 L1570.00,1080.50 L1570.50,1080.57 L1571.00,1080.63 L1571.50,1080.70 L1572.00,1080.76 L1572.50,1080.82 L1573.00,1080.88 L1573.50,1080.94 L1574.00,1081.00 L1574.50,1081.06 L1575.00,1081.12 L1575.50,1081.18 L1576.00,1081.23 L1576.50,1081.29 L1577.00,1081.35 L1577.50,1081.40 L1578.00,1081.46 L1578.50,1081.51 L1579.00,1081.56 L1579.50,1081.62 L1580.00,1081.67 L1580.50,1081.72 L1581.00,1081.77 L1581.50,1081.82 L1582.00,1081.87 L1582.50,1081.92 L1583.00,1081.97 L1583.50,1082.02 L1584.00,1082.06 L1584.50,1082.11 L1585.00,1082.16 L1585.50,1082.20 L1586.00,1082.25 L1586.50,1082.29 L1587.00,1082.34 L1587.50,1082.38 L1588.00,1082.43 L1588.50,1082.47 L1589.00,1082.51 L1589.50,1082.55 L1590.00,1082.60 L1590.50,1082.64 L1591.00,1082.68 L1591.50,1082.72 L1592.00,1082.76 L1592.50,1082.80 L1593.00,1082.84 L1593.50,1082.88 L1594.00,1082.91 L1594.50,1082.95 L1595.00,1082.99 L1595.50,1083.03 L1596.00,1083.06 L1596.50,1083.10 L1597.00,1083.14 L1597.50,1083.17 L1598.00,1083.21 L1598.50,1083.24 L1599.00,1083.28 L1599.50,1083.31 L1600.00,1083.35 L1600.50,1083.38 L1601.00,1083.41 L1601.50,1083.45 L1602.00,1083.48 L1602.50,1083.51 L1603.00,1083.54 L1603.50,1083.58 L1604.00,1083.61 L1604.50,1083.64 L1605.00,1083.67 L1605.50,1083.70 L1606.00,1083.73 L1606.50,1083.76 L1607.00,1083.79 L1607.50,1083.82 L1608.00,1083.85 L1608.50,1083.88 L1609.00,1083.91 L1609.50,1083.94 L1610.00,1083.96 L1610.50,1083.99 L1611.00,1084.02 L1611.50,1084.05 L1612.00,1084.07 L1612.50,1084.10 L1613.00,1084.13 L1613.50,1084.15 L1614.00,1084.18 L1614.50,1084.21 L1615.00,1084.23 L1615.50,1084.26 L1616.00,1084.28 L1616.50,1084.31 L1617.00,1084.33 L1617.50,1084.36 L1618.00,1084.38 L1618.50,1084.41 L1619.00,1084.43 L1619.50,1084.45 L1620.00,1084.48 L1620.50,1084.50 L1621.00,1084.52 L1621.50,1084.55 L1622.00,1084.57 L1622.50,1084.59 L1623.00,1084.61 L1623.50,1084.64 L1624.00,1084.66 L1624.50,1084.68 L1625.00,1084.70 L1625.50,1084.72 L1626.00,1084.74 L1626.50,1084.77 L1627.00,1084.79 L1627.50,1084.81 L1628.00,1084.83 L1628.50,1084.85 L1629.00,1084.87 L1629.50,1084.89 L1630.00,1084.91 L1630.50,1084.93 L1631.00,1084.95 L1631.50,1084.97 L1632.00,1084.99 L1632.50,1085.00 L1633.00,1085.02 L1633.50,1085.04 L1634.00,1085.06 L1634.50,1085.08 L1635.00,1085.10 L1635.50,1085.12 L1636.00,1085.13 L1636.50,1085.15 L1637.00,1085.17 L1637.50,1085.19 L1638.00,1085.20 L1638.50,1085.22 L1639.00,1085.24 L1639.50,1085.26 L1640.00,1085.27 L1640.50,1085.29 L1641.00,1085.31 L1641.50,1085.32 L1642.00,1085.34 L1642.50,1085.36 L1643.00,1085.37 L1643.50,1085.39 L1644.00,1085.40 L1644.50,1085.42 L1645.00,1085.43 L1645.50,1085.45 L1646.00,1085.47 L1646.50,1085.48 L1647.00,1085.50 L1647.50,1085.51 L1648.00,1085.53 L1648.50,1085.54 L1649.00,1085.56 L1649.50,1085.57 L1650.00,1085.59 L1650.50,1085.60 L1651.00,1085.61 L1651.50,1085.63 L1652.00,1085.64 L1652.50,1085.66 L1653.00,1085.67 L1653.50,1085.68 L1654.00,1085.70 L1654.50,1085.71 L1655.00,1085.72 L1655.50,1085.74 L1656.00,1085.75 L1656.50,1085.76 L1657.00,1085.78 L1657.50,1085.79 L1658.00,1085.80 L1658.50,1085.82 L1659.00,1085.83 L1659.50,1085.84 L1660.00,1085.85 L1660.50,1085.87 L1661.00,1085.88 L1661.50,1085.89 L1662.00,1085.90 L1662.50,1085.92 L1663.00,1085.93 L1663.50,1085.94 L1664.00,1085.95 L1664.50,1085.96 L1665.00,1085.98 L1665.50,1085.99 L1666.00,1086.00 L1666.50,1086.01 L1667.00,1086.02 L1667.50,1086.03 L1668.00,1086.04 L1668.50,1086.05 L1669.00,1086.07 L1669.50,1086.08 L1670.00,1086.09 L1670.50,1086.10 L1671.00,1086.11 L1671.50,1086.12 L1672.00,1086.13 L1672.50,1086.14 L1673.00,1086.15 L1673.50,1086.16 L1674.00,1086.17 L1674.50,1086.18 L1675.00,1086.19 L1675.50,1086.20 L1676.00,1086.21 L1676.50,1086.22 L1677.00,1086.23 L1677.50,1086.24 L1678.00,1086.25 L1678.50,1086.26 L1679.00,1086.27 L1679.50,1086.28 L1680.00,1086.29 L1680.50,1086.30 L1681.00,1086.31 L1681.50,1086.32 L1682.00,1086.33 L1682.50,1086.34 L1683.00,1086.35 L1683.50,1086.36 L1684.00,1086.37 L1684.50,1086.38 L1685.00,1086.38 L1685.50,1086.39 L1686.00,1086.40 L1686.50,1086.41 L1687.00,1086.42 L1687.50,1086.43 L1688.00,1086.44 L1688.50,1086.45 L1689.00,1086.45 L1689.50,1086.46 L1690.00,1086.47 L1690.50,1086.48 L1691.00,1086.49 L1691.50,1086.50 L1692.00,1086.50 L1692.50,1086.51 L1693.00,1086.52 L1693.50,1086.53 L1694.00,1086.54 L1694.50,1086.54 L1695.00,1086.55 L1695.50,1086.56 L1696.00,1086.57 L1696.50,1086.58 L1697.00,1086.58 L1697.50,1086.59 L1698.00,1086.60 L1698.50,1086.61 L1699.00,1086.61 L1699.50,1086.62 L1700.00,1086.63 L1700.50,1086.64 L1701.00,1086.64 L1701.50,1086.65 L1702.00,1086.66 L1702.50,1086.67 L1703.00,1086.67 L1703.50,1086.68 L1704.00,1086.69 L1704.50,1086.69 L1705.00,1086.70 L1705.50,1086.71 L1706.00,1086.72 L1706.50,1086.72 L1707.00,1086.73 L1707.50,1086.74 L1708.00,1086.74 L1708.50,1086.75 L1709.00,1086.76 L1709.50,1086.76 L1710.00,1086.77 L1710.50,1086.78 L1711.00,1086.78 L1711.50,1086.79 L1712.00,1086.80 L1712.50,1086.80 L1713.00,1086.81 L1713.50,1086.82 L1714.00,1086.82 L1714.50,1086.83 L1715.00,1086.83 L1715.50,1086.84 L1716.00,1086.85 L1716.50,1086.85 L1717.00,1086.86 L1717.50,1086.86 L1718.00,1086.87 L1718.50,1086.88 L1719.00,1086.88 L1719.50,1086.89 L1720.00,1086.89 L1720.50,1086.90 L1721.00,1086.91 L1721.50,1086.91 L1722.00,1086.92 L1722.50,1086.92 L1723.00,1086.93 L1723.50,1086.94 L1724.00,1086.94 L1724.50,1086.95 L1725.00,1086.95 L1725.50,1086.96 L1726.00,1086.96 L1726.50,1086.97 L1727.00,1086.97 L1727.50,1086.98 L1728.00,1086.99 L1728.50,1086.99 L1729.00,1087.00 L1729.50,1087.00 L1730.00,1087.01 L1730.50,1087.01 L1731.00,1087.02 L1731.50,1087.02 L1732.00,1087.03 L1732.50,1087.03 L1733.00,1087.04 L1733.50,1087.04 L1734.00,1087.05 L1734.50,1087.05 L1735.00,1087.06 L1735.50,1087.06 L1736.00,1087.07 L1736.50,1087.07 L1737.00,1087.08 L1737.50,1087.08 L1738.00,1087.09 L1738.50,1087.09 L1739.00,1087.10 L1739.50,1087.10 L1740.00,1087.11 L1740.50,1087.11 L1741.00,1087.12 L1741.50,1087.12 L1742.00,1087.13 L1742.50,1087.13 L1743.00,1087.14 L1743.50,1087.14 L1744.00,1087.15 L1744.50,1087.15 L1745.00,1087.15 L1745.50,1087.16 L1746.00,1087.16 L1746.50,1087.17 L1747.00,1087.17 L1747.50,1087.18 L1748.00,1087.18 L1748.50,1087.19 L1749.00,1087.19 L1749.50,1087.19 L1750.00,1087.20 L1750.50,1087.20 L1751.00,1087.21 L1751.50,1087.21 L1752.00,1087.22 L1752.50,1087.22 L1753.00,1087.22 L1753.50,1087.23 L1754.00,1087.23 L1754.50,1087.24 L1755.00,1087.24 L1755.50,1087.24 L1756.00,1087.25 L1756.50,1087.25 L1757.00,1087.26 L1757.50,1087.26 L1758.00,1087.27 L1758.50,1087.27 L1759.00,1087.27 L1759.50,1087.28 L1760.00,1087.28 L1760.50,1087.28 L1761.00,1087.29" fill="none" stroke="#E0363D" stroke-width="3.9" stroke-linejoin="round"/>
<path d="M1420.00,1086.17 L1420.20,1086.14 L1420.40,1086.11 L1420.60,1086.07 L1420.80,1086.04 L1421.00,1086.01 L1421.20,1085.97 L1421.40,1085.94 L1421.60,1085.90 L1421.80,1085.86 L1422.00,1085.83 L1422.20,1085.79 L1422.40,1085.75 L1422.60,1085.71 L1422.80,1085.67 L1423.00,1085.62 L1423.20,1085.58 L1423.40,1085.54 L1423.60,1085.49 L1423.80,1085.45 L1424.00,1085.40 L1424.20,1085.35 L1424.40,1085.30 L1424.60,1085.25 L1424.80,1085.20 L1425.00,1085.15 L1425.20,1085.09 L1425.40,1085.04 L1425.60,1084.98 L1425.80,1084.92 L1426.00,1084.86 L1426.20,1084.80 L1426.40,1084.74 L1426.60,1084.67 L1426.80,1084.61 L1427.00,1084.54 L1427.20,1084.47 L1427.40,1084.40 L1427.60,1084.33 L1427.80,1084.25 L1428.00,1084.17 L1428.20,1084.09 L1428.40,1084.01 L1428.60,1083.93 L1428.80,1083.84 L1429.00,1083.75 L1429.20,1083.66 L1429.40,1083.57 L1429.60,1083.47 L1429.80,1083.37 L1430.00,1083.27 L1430.20,1083.16 L1430.40,1083.05 L1430.60,1082.94 L1430.80,1082.83 L1431.00,1082.71 L1431.20,1082.58 L1431.40,1082.46 L1431.60,1082.32 L1431.80,1082.19 L1432.00,1082.05 L1432.20,1081.90 L1432.40,1081.75 L1432.60,1081.60 L1432.80,1081.44 L1433.00,1081.27 L1433.20,1081.10 L1433.40,1080.92 L1433.60,1080.74 L1433.80,1080.55 L1434.00,1080.35 L1434.20,1080.15 L1434.40,1079.93 L1434.60,1079.71 L1434.80,1079.48 L1435.00,1079.24 L1435.20,1078.99 L1435.40,1078.73 L1435.60,1078.46 L1435.80,1078.18 L1436.00,1077.89 L1436.20,1077.58 L1436.40,1077.26 L1436.60,1076.93 L1436.80,1076.58 L1437.00,1076.22 L1437.20,1075.84 L1437.40,1075.44 L1437.60,1075.02 L1437.80,1074.59 L1438.00,1074.13 L1438.20,1073.65 L1438.40,1073.14 L1438.60,1072.61 L1438.80,1072.05 L1439.00,1071.46 L1439.20,1070.84 L1439.40,1070.18 L1439.60,1069.49 L1439.80,1068.76 L1440.00,1067.98 L1440.20,1067.16 L1440.40,1066.30 L1440.60,1065.37 L1440.80,1064.39 L1441.00,1063.35 L1441.20,1062.24 L1441.40,1061.05 L1441.60,1059.79 L1441.80,1058.44 L1442.00,1056.99 L1442.20,1055.43 L1442.40,1053.76 L1442.60,1051.97 L1442.80,1050.04 L1443.00,1047.95 L1443.20,1045.69 L1443.40,1043.25 L1443.60,1040.60 L1443.80,1037.72 L1444.00,1034.58 L1444.20,1031.15 L1444.40,1027.40 L1444.60,1023.28 L1444.80,1018.76 L1445.00,1013.78 L1445.20,1008.29 L1445.40,1002.20 L1445.60,995.45 L1445.80,987.93 L1446.00,979.56 L1446.20,970.20 L1446.40,959.71 L1446.60,947.95 L1446.80,934.73 L1447.00,919.86 L1447.20,903.13 L1447.40,884.32 L1447.60,863.23 L1447.80,839.65 L1448.00,813.49 L1448.20,784.76 L1448.40,753.65 L1448.60,720.70 L1448.80,686.81 L1449.00,653.41 L1449.20,622.40 L1449.40,596.08 L1449.60,576.81 L1449.80,566.60 L1450.00,566.60 L1450.20,576.81 L1450.40,596.08 L1450.60,622.40 L1450.80,653.41 L1451.00,686.81 L1451.20,720.70 L1451.40,753.65 L1451.60,784.76 L1451.80,813.49 L1452.00,839.65 L1452.20,863.23 L1452.40,884.32 L1452.60,903.13 L1452.80,919.86 L1453.00,934.73 L1453.20,947.95 L1453.40,959.71 L1453.60,970.20 L1453.80,979.56 L1454.00,987.93 L1454.20,995.45 L1454.40,1002.20 L1454.60,1008.29 L1454.80,1013.78 L1455.00,1018.76 L1455.20,1023.28 L1455.40,1027.40 L1455.60,1031.15 L1455.80,1034.58 L1456.00,1037.72 L1456.20,1040.60 L1456.40,1043.25 L1456.60,1045.69 L1456.80,1047.95 L1457.00,1050.04 L1457.20,1051.97 L1457.40,1053.76 L1457.60,1055.43 L1457.80,1056.99 L1458.00,1058.44 L1458.20,1059.79 L1458.40,1061.05 L1458.60,1062.24 L1458.80,1063.35 L1459.00,1064.39 L1459.20,1065.37 L1459.40,1066.30 L1459.60,1067.16 L1459.80,1067.98 L1460.00,1068.76 L1460.20,1069.49 L1460.40,1070.18 L1460.60,1070.84 L1460.80,1071.46 L1461.00,1072.05 L1461.20,1072.61 L1461.40,1073.14 L1461.60,1073.65 L1461.80,1074.13 L1462.00,1074.59 L1462.20,1075.02 L1462.40,1075.44 L1462.60,1075.84 L1462.80,1076.22 L1463.00,1076.58 L1463.20,1076.93 L1463.40,1077.26 L1463.60,1077.58 L1463.80,1077.89 L1464.00,1078.18 L1464.20,1078.46 L1464.40,1078.73 L1464.60,1078.99 L1464.80,1079.24 L1465.00,1079.48 L1465.20,1079.71 L1465.40,1079.93 L1465.60,1080.15 L1465.80,1080.35 L1466.00,1080.55 L1466.20,1080.74 L1466.40,1080.92 L1466.60,1081.10 L1466.80,1081.27 L1467.00,1081.44 L1467.20,1081.60 L1467.40,1081.75 L1467.60,1081.90 L1467.80,1082.05 L1468.00,1082.19 L1468.20,1082.32 L1468.40,1082.46 L1468.60,1082.58 L1468.80,1082.71 L1469.00,1082.83 L1469.20,1082.94 L1469.40,1083.05 L1469.60,1083.16 L1469.80,1083.27 L1470.00,1083.37 L1470.20,1083.47 L1470.40,1083.57 L1470.60,1083.66 L1470.80,1083.75 L1471.00,1083.84 L1471.20,1083.93 L1471.40,1084.01 L1471.60,1084.09 L1471.80,1084.17 L1472.00,1084.25 L1472.20,1084.33 L1472.40,1084.40 L1472.60,1084.47 L1472.80,1084.54 L1473.00,1084.61 L1473.20,1084.67 L1473.40,1084.74 L1473.60,1084.80 L1473.80,1084.86 L1474.00,1084.92 L1474.20,1084.98 L1474.40,1085.04 L1474.60,1085.09 L1474.80,1085.15 L1475.00,1085.20 L1475.20,1085.25 L1475.40,1085.30 L1475.60,1085.35 L1475.80,1085.40 L1476.00,1085.45 L1476.20,1085.49 L1476.40,1085.54 L1476.60,1085.58 L1476.80,1085.62 L1477.00,1085.67 L1477.20,1085.71 L1477.40,1085.75 L1477.60,1085.79 L1477.80,1085.83 L1478.00,1085.86 L1478.20,1085.90 L1478.40,1085.94 L1478.60,1085.97 L1478.80,1086.01 L1479.00,1086.04 L1479.20,1086.07 L1479.40,1086.11 L1479.60,1086.14 L1479.80,1086.17 L1480.00,1086.20" fill="none" stroke="#000" stroke-width="3.8" stroke-linejoin="round"/>
<path d="M218,252.3 L1312,252.3 L1313.5,250.4 L1369,250.3 L1370.00,249.38 L1371.00,248.53 L1372.00,247.80 L1373.00,247.15 L1374.00,246.56 L1375.00,246.04 L1376.00,245.60 L1377.00,245.24 L1378.00,244.93 L1379.00,244.66 L1380.00,244.40 L1381.00,244.15 L1382.00,243.89 L1383.00,243.60 L1384.00,243.30 L1385.00,243.01 L1386.00,242.73 L1387.00,242.45 L1388.00,242.17 L1389.00,241.88 L1390.00,241.57 L1391.00,241.26 L1392.00,240.92 L1393.00,240.56 L1394.00,240.17 L1395.00,239.75 L1396.00,239.30 L1397.00,238.76 L1398.00,238.12 L1399.00,237.39 L1400.00,236.61 L1401.00,235.80 L1402.00,235.00 L1403.00,234.19 L1404.00,233.33 L1405.00,232.44 L1406.00,231.50 L1407.00,230.54 L1408.00,229.55 L1409.00,228.48 L1410.00,227.30 L1410.25,226.98 L1410.50,226.66 L1410.75,226.32 L1411.00,225.98 L1411.25,225.63 L1411.50,225.26 L1411.75,224.89 L1412.00,224.51 L1412.25,224.11 L1412.50,223.71 L1412.75,223.30 L1413.00,222.88 L1413.25,222.44 L1413.50,222.00 L1413.75,221.55 L1414.00,221.08 L1414.25,220.60 L1414.50,220.11 L1414.75,219.60 L1415.00,219.08 L1415.25,218.53 L1415.50,217.97 L1415.75,217.39 L1416.00,216.78 L1416.25,216.15 L1416.50,215.50 L1416.75,214.81 L1417.00,214.08 L1417.25,213.30 L1417.50,212.49 L1417.75,211.64 L1418.00,210.76 L1418.25,209.85 L1418.50,208.92 L1418.75,207.97 L1419.00,207.00 L1419.25,206.01 L1419.50,205.01 L1419.75,203.97 L1420.00,202.89 L1420.25,201.77 L1420.50,200.60 L1420.75,199.37 L1421.00,198.08 L1421.25,196.72 L1421.50,195.21 L1421.75,193.56 L1422.00,191.80 L1422.25,189.97 L1422.50,188.12 L1422.75,186.28 L1423.00,184.50 L1423.25,182.76 L1423.50,181.01 L1423.75,179.26 L1424.00,177.51 L1424.25,175.76 L1424.50,174.01 L1424.75,172.26 L1425.00,170.51 L1425.25,168.75 L1425.50,167.00 L1425.75,165.25 L1426.00,163.50 L1426.25,161.75 L1426.50,160.00 L1426.75,158.25 L1427.00,156.50 L1427.25,154.75 L1427.50,153.00 L1427.75,151.25 L1428.00,149.50 L1428.25,147.75 L1428.50,146.00 L1428.75,144.25 L1429.00,142.50 L1429.25,140.75 L1429.50,139.00 L1429.75,137.25 L1430.00,135.50 L1430.25,133.75 L1430.50,132.00 L1430.75,130.25 L1431.00,128.50 L1431.25,126.75 L1431.50,125.00 L1431.75,123.25 L1432.00,121.50 L1432.25,119.74 L1432.50,117.98 L1432.75,116.20 L1433.00,114.42 L1433.25,112.64 L1433.50,110.87 L1433.75,109.10 L1434.00,107.34 L1434.25,105.60 L1434.50,103.88 L1434.75,102.18 L1435.00,100.50 L1435.25,98.82 L1435.50,97.10 L1435.75,95.38 L1436.00,93.68 L1436.25,92.03 L1436.50,90.43 L1436.75,88.92 L1437.00,87.52 L1437.25,86.25 L1437.50,84.98 L1437.75,83.65 L1438.00,82.32 L1438.25,81.03 L1438.50,79.81 L1438.75,78.71 L1439.00,77.77 L1439.25,77.03 L1439.50,76.53 L1439.75,76.31 L1440.00,76.65 L1440.25,77.95 L1440.50,80.00 L1440.75,82.56 L1441.00,85.41 L1441.25,88.32 L1441.50,91.14 L1441.75,94.35 L1442.00,97.96 L1442.25,101.80 L1442.50,105.70 L1442.75,109.62 L1443.00,113.62 L1443.25,117.72 L1443.50,121.90 L1443.75,126.19 L1444.00,130.58 L1444.25,135.08 L1444.50,139.70 L1444.75,144.44 L1445.00,149.31 L1445.25,154.34 L1445.50,159.61 L1445.75,165.10 L1446.00,170.78 L1446.25,176.60 L1446.50,182.53 L1446.75,188.53 L1447.00,194.58 L1447.25,200.65 L1447.50,206.83 L1447.75,213.15 L1448.00,219.65 L1448.25,226.34 L1448.50,232.75 L1448.75,239.58 L1449.00,248.00 L1449.25,262.19 L1449.50,275.00 L1449.75,280.63 L1450.00,284.55 L1450.25,287.84 L1450.50,291.55 L1450.75,296.54 L1451.00,302.36 L1451.25,308.73 L1451.50,315.44 L1451.75,322.28 L1452.00,329.02 L1452.25,335.47 L1452.50,341.63 L1452.75,347.86 L1453.00,354.04 L1453.25,360.04 L1453.50,365.74 L1453.75,371.01 L1454.00,375.86 L1454.25,380.52 L1454.50,384.97 L1454.75,389.22 L1455.00,393.25 L1455.25,397.06 L1455.50,400.64 L1455.75,404.00 L1456.00,407.26 L1456.25,410.34 L1456.50,413.21 L1456.75,415.78 L1457.00,418.00 L1457.25,420.11 L1457.50,422.24 L1457.75,424.13 L1458.00,425.52 L1458.25,426.18 L1458.50,426.05 L1458.75,425.48 L1459.00,424.61 L1459.25,423.54 L1459.50,422.40 L1459.75,421.28 L1460.00,420.05 L1460.25,418.63 L1460.50,417.07 L1460.75,415.40 L1461.00,413.64 L1461.25,411.83 L1461.50,410.00 L1461.75,408.10 L1462.00,406.06 L1462.25,403.92 L1462.50,401.70 L1462.75,399.46 L1463.00,397.21 L1463.25,394.99 L1463.50,392.84 L1463.75,390.76 L1464.00,388.71 L1464.25,386.67 L1464.50,384.65 L1464.75,382.65 L1465.00,380.67 L1465.25,378.71 L1465.50,376.77 L1465.75,374.86 L1466.00,372.97 L1466.25,371.11 L1466.50,369.27 L1466.75,367.44 L1467.00,365.63 L1467.25,363.83 L1467.50,362.03 L1467.75,360.24 L1468.00,358.45 L1468.25,356.65 L1468.50,354.84 L1468.75,353.03 L1469.00,351.20 L1469.25,349.34 L1469.50,347.45 L1469.75,345.53 L1470.00,343.59 L1470.25,341.64 L1470.50,339.69 L1470.75,337.74 L1471.00,335.81 L1471.25,333.89 L1471.50,332.00 L1471.75,330.15 L1472.00,328.34 L1472.25,326.58 L1472.50,324.88 L1472.75,323.25 L1473.00,321.68 L1473.25,320.14 L1473.50,318.62 L1473.75,317.11 L1474.00,315.62 L1474.25,314.15 L1474.50,312.70 L1474.75,311.27 L1475.00,309.86 L1475.25,308.47 L1475.50,307.11 L1475.75,305.77 L1476.00,304.46 L1476.25,303.18 L1476.50,301.92 L1476.75,300.70 L1477.00,299.50 L1477.25,298.33 L1477.50,297.20 L1477.75,296.10 L1478.00,295.03 L1478.25,294.00 L1478.50,293.00 L1478.75,292.02 L1479.00,291.04 L1479.25,290.08 L1479.50,289.13 L1479.75,288.20 L1480.00,287.28 L1480.25,286.39 L1480.50,285.53 L1480.75,284.70 L1481.00,283.89 L1481.25,283.13 L1481.50,282.40 L1481.75,281.71 L1482.00,281.06 L1482.25,280.46 L1482.50,279.90 L1482.75,279.40 L1483.00,278.93 L1483.25,278.48 L1483.50,278.05 L1483.75,277.64 L1484.00,277.24 L1484.25,276.86 L1484.50,276.49 L1484.75,276.14 L1485.00,275.80 L1485.25,275.47 L1485.50,275.15 L1485.75,274.84 L1486.00,274.54 L1486.25,274.24 L1486.50,273.95 L1486.75,273.67 L1487.00,273.38 L1487.25,273.10 L1487.50,272.82 L1487.75,272.55 L1488.00,272.27 L1488.25,271.98 L1488.50,271.70 L1488.75,271.41 L1489.00,271.13 L1489.25,270.85 L1489.50,270.57 L1489.75,270.29 L1490.00,270.01 L1490.25,269.74 L1490.50,269.47 L1490.75,269.21 L1491.00,268.94 L1491.25,268.68 L1491.50,268.43 L1491.75,268.18 L1492.00,267.93 L1492.25,267.69 L1492.50,267.45 L1492.75,267.22 L1493.00,266.99 L1493.25,266.77 L1493.50,266.55 L1493.75,266.34 L1494.00,266.14 L1494.25,265.94 L1494.50,265.75 L1494.75,265.56 L1495.00,265.37 L1495.25,265.19 L1495.50,265.01 L1495.75,264.84 L1496.00,264.67 L1496.25,264.50 L1496.50,264.34 L1496.75,264.17 L1497.00,264.01 L1497.25,263.86 L1497.50,263.70 L1497.75,263.55 L1498.00,263.41 L1498.25,263.26 L1498.50,263.12 L1498.75,262.98 L1499.00,262.84 L1499.25,262.70 L1499.50,262.56 L1499.75,262.43 L1500.00,262.30 L1501.00,261.78 L1502.00,261.28 L1503.00,260.78 L1504.00,260.30 L1505.00,259.84 L1506.00,259.40 L1507.00,258.99 L1508.00,258.60 L1509.00,258.24 L1510.00,257.91 L1511.00,257.61 L1512.00,257.33 L1513.00,257.04 L1514.00,256.76 L1515.00,256.48 L1516.00,256.22 L1517.00,255.97 L1518.00,255.74 L1519.00,255.52 L1520.00,255.33 L1521.00,255.16 L1522.00,255.01 L1523.00,254.90 L1524.00,254.82 L1525.00,254.77 L1526.00,254.73 L1527.00,254.70 L1528.00,254.67 L1529.00,254.64 L1530.00,254.62 L1531.00,254.60 L1532.00,254.59 L1533.00,254.57 L1534.00,254.56 L1535.00,254.54 L1536.00,254.53 L1537.00,254.51 L1538.00,254.49 L1539.00,254.47 L1540.00,254.45 L1541.00,254.42 L1542.00,254.39 L1543.00,254.35 L1544.00,254.30 L1545.00,254.21 L1546.00,254.06 L1547.00,253.87 L1548.00,253.65 L1549.00,253.43 L1550.00,253.24 L1551.00,253.09 L1552.00,253.00 L1553.00,252.95 L1554.00,252.91 L1555.00,252.86 L1556.00,252.82 L1557.00,252.79 L1558.00,252.75 L1559.00,252.72 L1560.00,252.69 L1561.00,252.67 L1562.00,252.65 L1563.00,252.63 L1564.00,252.62 L1565.00,252.61 L1566.00,252.60 L1567.00,252.60 L1800,252.3" fill="none" stroke="#F0BC3C" stroke-width="3.7" stroke-linejoin="round"/>
<line x1="247.5" y1="330.4" x2="329.6" y2="330.4" stroke="#F0BC3C" stroke-width="4.4" stroke-linecap="round"/>
<line x1="247.5" y1="414.2" x2="329.6" y2="414.2" stroke="#4472C4" stroke-width="4.4" stroke-linecap="round"/>
<line x1="247.5" y1="498.4" x2="329.6" y2="498.4" stroke="#D0383C" stroke-width="4.4" stroke-linecap="round"/>
<line x1="247.5" y1="582.0" x2="329.6" y2="582.0" stroke="#000" stroke-width="4.4" stroke-linecap="round"/>
<line x1="1313.5" y1="151.8" x2="1139.5" y2="151.8" stroke="#000" stroke-width="4.6" stroke-linecap="round"/><polygon points="1117.0,151.8 1139.5,140.60000000000002 1139.5,163.0" fill="#000" stroke="#000" stroke-width="1.5" stroke-linejoin="round"/>
<line x1="1538.5" y1="775.6" x2="1709.0" y2="775.6" stroke="#000" stroke-width="4.6" stroke-linecap="round"/><polygon points="1731.5,775.6 1709.0,764.4 1709.0,786.8000000000001" fill="#000" stroke="#000" stroke-width="1.5" stroke-linejoin="round"/>
<g font-family="'Liberation Sans', sans-serif" fill="#000" stroke="#000" stroke-width="0.5">
<text transform="translate(87.06,65.15) scale(0.9194,1)" font-size="55.6">3.22</text>
<text transform="translate(86.43,271.35) scale(0.9346,1)" font-size="55.6">3.20</text>
<text transform="translate(86.10,479.25) scale(0.9500,1)" font-size="55.6">3.18</text>
<text transform="translate(1816.48,476.05) scale(0.9583,1)" font-size="55.6">0.12</text>
<text transform="translate(1816.17,685.20) scale(0.9635,1)" font-size="55.6">0.08</text>
<text transform="translate(1816.19,896.70) scale(0.9543,1)" font-size="55.6">0.04</text>
<text transform="translate(1816.46,1105.35) scale(0.9692,1)" font-size="55.6">0.00</text>
<text transform="translate(201.70,1187.10) scale(0.9500,1)" font-size="61.0">0</text>
<text transform="translate(564.22,1187.05) scale(0.9766,1)" font-size="61.0">100</text>
<text transform="translate(958.61,1187.05) scale(0.9635,1)" font-size="61.0">200</text>
<text transform="translate(1354.07,1187.05) scale(0.9670,1)" font-size="61.0">300</text>
<text transform="translate(1747.33,1187.05) scale(0.9724,1)" font-size="61.0">400</text>
<text transform="translate(701.26,1275.20) scale(1.0409,1)" font-size="55.5">Transition energy [meV]</text>
<text transform="translate(57.10,807.99) rotate(-90) scale(0.9573,1)" font-size="55.5">Refractive index n [ ]</text>
<text transform="translate(1991.30,817.90) rotate(-90) scale(0.9915,1)" font-size="54.5">Absorption index k [ ]</text>
<text transform="translate(336.81,340.60) scale(1.0713,1)" font-size="43.5">Refractive index n with Stark effect</text>
<text transform="translate(339.10,428.30) scale(1.0778,1)" font-size="43.5">Absorption index k without Stark effect (210 meV)</text>
<text transform="translate(339.10,512.50) scale(1.0705,1)" font-size="43.5">Absorption index k with Stark effect (315 meV)</text>
<text transform="translate(338.68,596.10) scale(1.0119,1)" font-size="43.5">QC Laser 4 µm (315 meV)</text>
</g>
</svg>
</body></html>
